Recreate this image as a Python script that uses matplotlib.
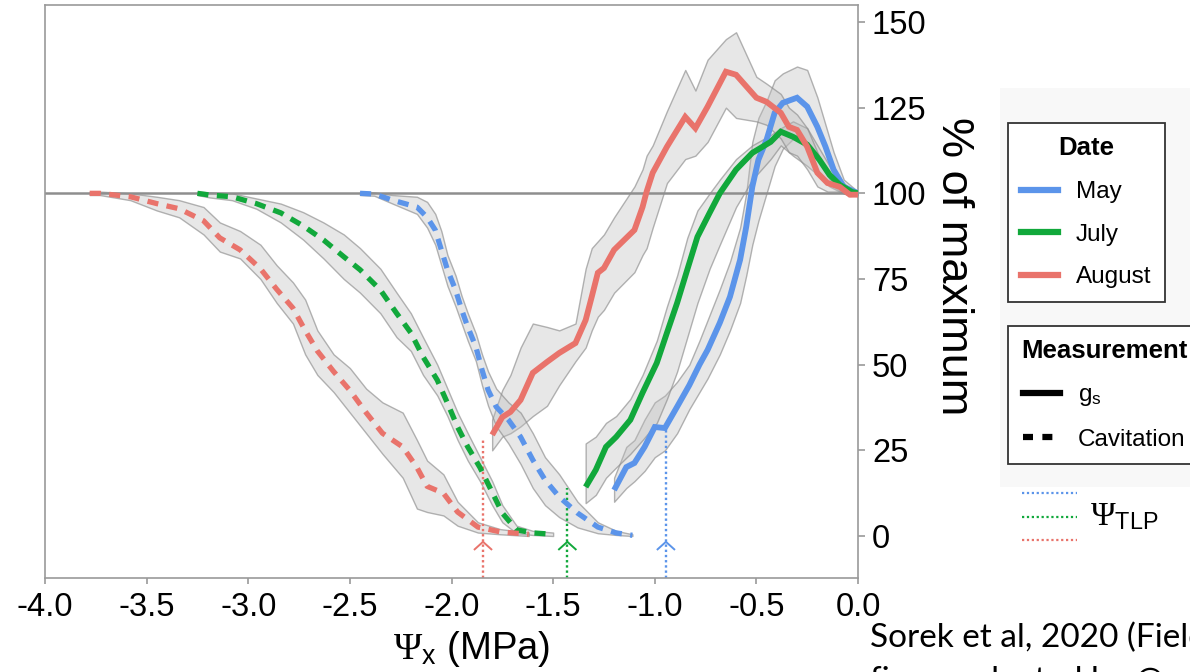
import numpy as np
import matplotlib
matplotlib.use('Agg')
import matplotlib.pyplot as plt
from matplotlib.lines import Line2D
from matplotlib.path import Path
from matplotlib.patches import Rectangle

plt.rcParams['font.family'] = ['Liberation Sans', 'DejaVu Sans']
plt.rcParams['mathtext.fontset'] = 'custom'
plt.rcParams['mathtext.rm'] = 'Liberation Serif'
plt.rcParams['mathtext.sf'] = 'Liberation Sans'
plt.rcParams['mathtext.it'] = 'Liberation Serif:italic'
plt.rcParams['axes.unicode_minus'] = False

# --- cavitation (% of max) vs xylem water potential, mean and ribbon ---
cav_may_x = [-2.45, -2.38, -2.29, -2.17, -2.12, -2.08, -2.05, -2.02, -1.98, -1.95, -1.92, -1.88,
             -1.85, -1.82, -1.78, -1.72, -1.66, -1.60, -1.54, -1.47, -1.38, -1.28, -1.19, -1.11]
cav_may_y = [100, 99.8, 98, 96, 93, 89.3, 83.5, 77.7, 71.8, 66, 61, 55.2,
             48.5, 42.6, 37.7, 33.9, 28.9, 22.2, 16.4, 11.4, 6.7, 2.6, 0.9, 0.2]
cav_may_hi = [100.5, 100.3, 99.5, 99, 97.5, 94, 89, 82, 76, 70, 65, 59,
              53, 48, 43, 39, 36, 30, 23, 18, 10, 4, 1.5, 0.5]
cav_may_lo = [99.5, 99.3, 97, 94, 90, 85, 79, 73, 67, 62, 57, 51,
              44, 38, 32, 27, 21, 14, 9, 5.5, 2.5, 0.8, 0.3, 0]

cav_jul_x = [-3.25, -3.19, -3.08, -2.96, -2.84, -2.73, -2.63, -2.53, -2.45, -2.35, -2.27, -2.20,
             -2.14, -2.07, -2.02, -1.97, -1.92, -1.86, -1.80, -1.75, -1.68, -1.60, -1.50]
cav_jul_y = [100, 99.5, 99, 97, 94.3, 90.5, 86.4, 81.5, 77.7, 71.8, 65, 59.3,
             52.3, 45.5, 38.8, 31.8, 26, 20, 12.8, 6.7, 1.8, 0.9, 0.5]
cav_jul_hi = [100.5, 100.3, 100, 98.5, 97, 94.5, 91.5, 88, 84, 78, 71, 65,
              58, 50, 43, 36, 30, 23, 16, 9, 3, 1.5, 1]
cav_jul_lo = [99.5, 98.8, 98, 95.5, 91.5, 86.5, 81, 75, 71, 65, 58, 54,
              47, 41, 35, 28, 22, 16, 9, 4, 0.8, 0.3, 0]

cav_aug_x = [-3.78, -3.73, -3.58, -3.45, -3.34, -3.22, -3.14, -3.04, -2.94, -2.86, -2.78, -2.72,
             -2.66, -2.58, -2.50, -2.42, -2.34, -2.24, -2.17, -2.12, -2.04, -1.97, -1.87, -1.76, -1.62]
cav_aug_y = [100, 100, 99, 97, 95.5, 92, 87, 83.5, 78, 72, 66.5, 60,
             54, 48, 42.5, 36, 30, 26, 20, 14.5, 12.5, 7, 2.6, 1.2, 0.5]
cav_aug_hi = [100.5, 100.5, 100, 99, 98, 96, 91.5, 89, 85, 79, 74, 69,
              60, 53, 49, 43, 39, 36, 28, 22, 18, 10, 4, 2, 1]
cav_aug_lo = [99.5, 99.5, 98, 95, 93, 88, 83, 81, 75, 68, 62, 53,
              47, 42, 36, 30, 24, 17, 8, 7, 6, 3, 1, 0.5, 0]

# --- stomatal conductance gs (% of max) ---
gs_may_x = [-1.20, -1.14, -1.10, -1.05, -1.00, -0.95, -0.89, -0.83, -0.78, -0.74, -0.68, -0.63, -0.58,
            -0.55, -0.52, -0.49, -0.45, -0.41, -0.37, -0.30, -0.25, -0.20, -0.16, -0.12, -0.07, 0.0]
gs_may_y = [13.4, 20.1, 21.3, 26, 31.8, 31.5, 37.7, 44, 50, 54.3, 62.2, 69.8, 80.6,
            90.2, 101.9, 109.8, 115.6, 123.5, 126.4, 127.9, 125.3, 119.4, 113.6, 106.9, 101.9, 100]
gs_may_hi = [17, 26, 28, 34, 39, 41, 45, 50, 57, 63, 72, 80, 90,
             100, 115, 122, 127, 133, 135, 137, 136, 128, 120, 112, 104, 100.5]
gs_may_lo = [10, 14, 16, 19, 23, 25, 30, 37, 42, 46, 53, 60, 68,
             76, 85, 92, 100, 108, 113, 117, 114, 110, 106, 102, 100, 99.5]

gs_jul_x = [-1.34, -1.29, -1.24, -1.19, -1.12, -1.06, -0.99, -0.94, -0.89, -0.84, -0.79, -0.73,
            -0.68, -0.60, -0.52, -0.43, -0.38, -0.32, -0.25, -0.19, -0.14, -0.09, -0.03, 0.0]
gs_jul_y = [14.3, 19.3, 26, 28.9, 33.9, 41.8, 50.5, 59.3, 68, 77.7, 87.3, 94.3,
            100, 106.9, 111.8, 115, 118, 116.5, 114.2, 109.8, 105.4, 102.5, 100.4, 100]
gs_jul_hi = [27, 29, 33, 35, 40, 47, 57, 67, 76, 87, 95, 100,
             104, 110, 114, 117, 119, 121, 119, 113, 108, 104, 101, 100.3]
gs_jul_lo = [9.6, 12, 17, 20, 24, 28, 33, 40, 48, 58, 68, 78,
             85, 96, 104, 110, 114, 111, 108, 105, 102, 100.5, 99.8, 99.7]

gs_aug_x = [-1.80, -1.75, -1.71, -1.66, -1.60, -1.53, -1.47, -1.39, -1.34, -1.31, -1.28, -1.25,
            -1.20, -1.10, -1.06, -1.04, -1.01, -0.94, -0.85, -0.80, -0.74, -0.65, -0.60, -0.50,
            -0.45, -0.38, -0.34, -0.30, -0.25, -0.20, -0.15, -0.09, -0.04, 0.0]
gs_aug_y = [29.5, 34.7, 36.2, 39.7, 47.6, 50.8, 53.4, 56.3, 63, 69.8, 76.8, 78.2,
            83.5, 89.3, 96, 100.5, 106, 113.6, 122.3, 119, 125.3, 135.5, 134.6, 127.9,
            126.7, 123.5, 119.4, 118.5, 113.6, 106, 103, 101.9, 99.6, 99.6]
gs_aug_hi = [34, 42.6, 47, 55, 62, 61, 60, 62, 78, 84, 86, 88,
             93, 102, 107, 111, 114, 124, 136, 130, 139, 145, 147, 134,
             132, 129, 125, 123, 119, 112, 106, 103, 100.3, 100]
gs_aug_lo = [25, 29, 30, 32, 35, 38, 44, 51, 55, 60, 64, 66,
             71, 77, 82, 84, 90, 103, 110, 111, 115, 125, 122, 121,
             120, 116, 112, 111, 107, 102, 100.5, 100.5, 99.2, 99.5]

# turgor loss point per month and the gs value where its marker line stops
months = ['May', 'July', 'August']
month_colors = ['#5b94ea', '#11a83b', '#e9736b']
tlp_x = [-0.945, -1.43, -1.845]
tlp_top = [31, 14, 28]

cav = [(cav_may_x, cav_may_y, cav_may_lo, cav_may_hi),
       (cav_jul_x, cav_jul_y, cav_jul_lo, cav_jul_hi),
       (cav_aug_x, cav_aug_y, cav_aug_lo, cav_aug_hi)]
gs = [(gs_may_x, gs_may_y, gs_may_lo, gs_may_hi),
      (gs_jul_x, gs_jul_y, gs_jul_lo, gs_jul_hi),
      (gs_aug_x, gs_aug_y, gs_aug_lo, gs_aug_hi)]

fig = plt.figure(figsize=(11.9, 6.72), dpi=100)

# pale panel behind the legends
fig.add_artist(Rectangle((1000 / 1190, 1 - 487 / 672), 190 / 1190, 399 / 672,
                         transform=fig.transFigure, facecolor='#f8f8f8',
                         edgecolor='none', zorder=0))

ax = fig.add_axes([45 / 1190, 94 / 672, 813 / 1190, 573 / 672])
ymin, ymax = -12.26, 154.96

band_face = (0.74, 0.74, 0.74, 0.36)
band_edge = (0.55, 0.55, 0.55, 0.65)

for (x, y, lo, hi) in gs + cav:
    ax.fill_between(x, lo, hi, facecolor=band_face, edgecolor=band_edge, lw=1.0, zorder=1)

ax.axhline(100, color='#8e8e8e', lw=1.8, zorder=2)

for (x, y, lo, hi), c in zip(gs, month_colors):
    ax.plot(x, y, color=c, lw=4.2, solid_joinstyle='miter', solid_capstyle='butt', zorder=3)
for (x, y, lo, hi), c in zip(cav, month_colors):
    ax.plot(x, y, color=c, lw=3.8, ls=(0, (2.1, 1.6)), dash_capstyle='butt', zorder=3)

# turgor loss point: dotted drop lines with open arrowheads
ax.vlines(tlp_x, ymin, tlp_top, colors=month_colors, linestyles=(0, (1, 1.2)), lw=1.7, zorder=2)
chevron = Path([(-1, -0.9), (0, 0), (1, -0.9)], [Path.MOVETO, Path.LINETO, Path.LINETO])
ax.scatter(tlp_x, [-1.7] * 3, marker=chevron, s=170, facecolors='none',
           edgecolors=month_colors, linewidths=1.4, zorder=4)

ax.set_xlim(-4.0, 0.0)
ax.set_ylim(ymin, ymax)
ax.set_xticks(np.arange(-4.0, 0.01, 0.5))
ax.set_xticklabels([f'{v:.1f}' for v in np.arange(-4.0, 0.01, 0.5)])
ax.set_yticks([0, 25, 50, 75, 100, 125, 150])
ax.yaxis.tick_right()
for s in ax.spines.values():
    s.set_color('#9a9a9a')
    s.set_linewidth(1.2)
ax.tick_params(axis='x', length=4, width=1.2, color='#9a9a9a', labelsize=23.5, pad=6)
ax.tick_params(axis='y', length=5, width=1.2, color='#9a9a9a', labelsize=23.5, pad=5)

fig.text(953 / 1190, 1 - 266 / 672, '% of maximum', rotation=270, fontsize=32.5,
         ha='center', va='center')
fig.text(472 / 1190, 1 - 659 / 672, r'$\Psi_{\mathsf{x}}$ (MPa)', fontsize=27.5,
         ha='center', va='baseline')

# legends
leg_kw = dict(loc='upper left', fancybox=False, edgecolor='#333333', framealpha=1,
              fontsize=17.5, title_fontproperties={'weight': 'bold', 'size': 18.5},
              handlelength=1.5, handletextpad=0.75, labelspacing=0.85,
              borderpad=0.55, borderaxespad=0)

date_handles = [Line2D([], [], color=c, lw=4.5) for c in month_colors]
leg1 = fig.legend(date_handles, months, title='Date',
                  bbox_to_anchor=(1008 / 1190, 1 - 123 / 672), **leg_kw)
leg1.get_frame().set_linewidth(1.3)

meas_handles = [Line2D([], [], color='black', lw=4.5),
                Line2D([], [], color='black', lw=4.5, ls=(0, (1.6, 1.5)))]
leg2 = fig.legend(meas_handles, [r'g$_{\mathsf{s}}$', 'Cavitation'], title='Measurement',
                  bbox_to_anchor=(1008 / 1190, 1 - 326 / 672), **leg_kw)
leg2.get_frame().set_linewidth(1.3)

for yy, c in zip([493, 517, 540], month_colors):
    fig.add_artist(Line2D([1022 / 1190, 1077 / 1190], [1 - yy / 672] * 2,
                          transform=fig.transFigure, color=c, lw=1.6, ls=(0, (1, 1.2))))
fig.text(1090 / 1190, 1 - 517 / 672, r'$\Psi_{\mathsf{TLP}}$', fontsize=24, va='center')

fig.text(870 / 1190, 1 - 647 / 672, 'Sorek et al, 2020 (Field study)', fontfamily='Lato',
         fontsize=24, va='baseline')
fig.text(870 / 1190, 1 - 690 / 672, 'figure adapted by @', fontfamily='Lato',
         fontsize=24, va='baseline')

fig.savefig('out.png', dpi=100)
